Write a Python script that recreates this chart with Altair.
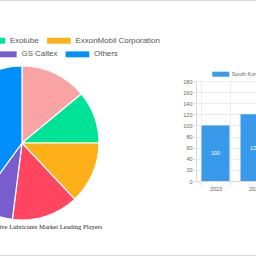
import altair as alt
import pandas as pd

# ---- data ----
players = ["Castrol", "Exolube", "ExxonMobil Corporation", "FUCHS", "GS Caltex", "Others"]
shares = [14, 11, 13, 14, 8, 40]
player_colors = ["#F9A3A4", "#00E396", "#FEB019", "#FF4560", "#775DD0", "#008FFB"]

years = ["2023", "2024"]
market_values = [100, 120]
series_name = "South Korea Automotive Lubricants Market"
y_ticks = [0, 20, 40, 60, 80, 100, 120, 140, 160, 180]

pie_title = "South Korea Automotive Lubricants Market Leading Players"

pie_df = pd.DataFrame({"player": players, "share": shares, "idx": list(range(len(players)))})
bar_df = pd.DataFrame({"year": years, "value": market_values, "series": [series_name] * len(years)})

LEFT, TOP = 196, 81  # plot origin (the bar chart's plot area)
rect_path = "M-1,-0.25H1V0.25H-1Z"

def pie_layer(values, lx, ly):
    return alt.Chart(pie_df).mark_arc(
        radius=77, stroke="white", strokeWidth=1.2
    ).encode(
        x=alt.value(22 - LEFT),
        y=alt.value(143 - TOP),
        theta=alt.Theta("share:Q", stack=True),
        order=alt.Order("idx:Q"),
        color=alt.Color(
            "player:N",
            sort=players,
            scale=alt.Scale(domain=players, range=player_colors),
            legend=alt.Legend(
                orient="none", legendX=lx, legendY=ly, direction="horizontal",
                values=values, title=None, symbolType=rect_path, symbolSize=561,
                symbolStrokeWidth=0, symbolOpacity=1, labelFont="Liberation Sans",
                labelFontSize=7.9, labelColor="#555555", labelOffset=4.7,
                columnPadding=7.6, padding=0,
            ),
        ),
    )

pieA = pie_layer(["Exolube", "ExxonMobil Corporation"], -18.7 - LEFT, 40.7 - 12 - TOP)
pieB = pie_layer(["GS Caltex", "Others"], -7.2 - LEFT, 54.3 - 12 - TOP)

title_layer = alt.Chart(pd.DataFrame({"t": [pie_title]})).mark_text(
    font="Liberation Serif", fontSize=6.6, color="#222222", align="center", baseline="middle"
).encode(x=alt.value(22 - LEFT), y=alt.value(227 - TOP), text="t:N")

xscale = alt.Scale(domain=years, range=[0, 78], paddingInner=0.28, paddingOuter=0.14)
yscale = alt.Scale(domain=[0, 180], nice=False)

x_axis = alt.Axis(
    title=None, labelAngle=0, tickBand="extent", grid=True, gridColor="#ebebeb",
    domainColor="#d9d9d9", tickColor="#e0e0e0", tickSize=4, labelPadding=1,
    labelOverlap=False, labelFlush=False,
    labelFont="Liberation Sans", labelFontSize=5.5, labelColor="#666666")
y_axis = alt.Axis(
    title=None, values=y_ticks, grid=True, gridColor="#ebebeb", domainColor="#d9d9d9",
    tickColor="#e0e0e0", tickSize=3, labelPadding=1, labelFont="Liberation Sans",
    labelOverlap=False, labelFlush=False,
    labelFontSize=5.5, labelColor="#666666")

bars = alt.Chart(bar_df).mark_bar(size=28).encode(
    x=alt.X("year:N", scale=xscale, sort=years, axis=x_axis),
    y=alt.Y("value:Q", scale=yscale, axis=y_axis),
    color=alt.Color("series:N", scale=alt.Scale(domain=[series_name], range=["#399AEB"]),
                    legend=alt.Legend(
                        orient="none", legendX=16.3, legendY=74.2 - 8.5 - TOP,
                        title=None, symbolType="M-1,-0.294H1V0.294H-1Z", symbolSize=289,
                        symbolStrokeWidth=0, symbolOpacity=1, labelFont="Liberation Sans",
                        labelFontSize=5.5, labelColor="#666666", labelOffset=2.4, padding=0)),
)

bar_text = alt.Chart(bar_df).transform_calculate(mid="datum.value / 2").mark_text(
    color="white", fontSize=5.5, font="Liberation Sans", baseline="middle"
).encode(
    x=alt.X("year:N", scale=xscale, sort=years, axis=x_axis),
    y=alt.Y("mid:Q", scale=yscale, axis=y_axis),
    text="value:Q",
)

border = alt.Chart(pd.DataFrame({"y": [0.5 - TOP, 255.5 - TOP]})).mark_rule(
    color="#d6d6d6", strokeWidth=1
).encode(x=alt.value(-LEFT), x2=alt.value(260 - LEFT), y=alt.Y("y:Q", scale=None))

chart = alt.layer(border, pieA, pieB, title_layer, bars, bar_text).resolve_scale(
    color="independent"
).properties(
    width=60, height=100,
    padding={"left": LEFT, "top": TOP, "right": 0, "bottom": 256 - TOP - 100},
    autosize="none",
).configure_view(stroke=None)

chart.save("out.html", embed_options={"renderer": "svg", "actions": False})
